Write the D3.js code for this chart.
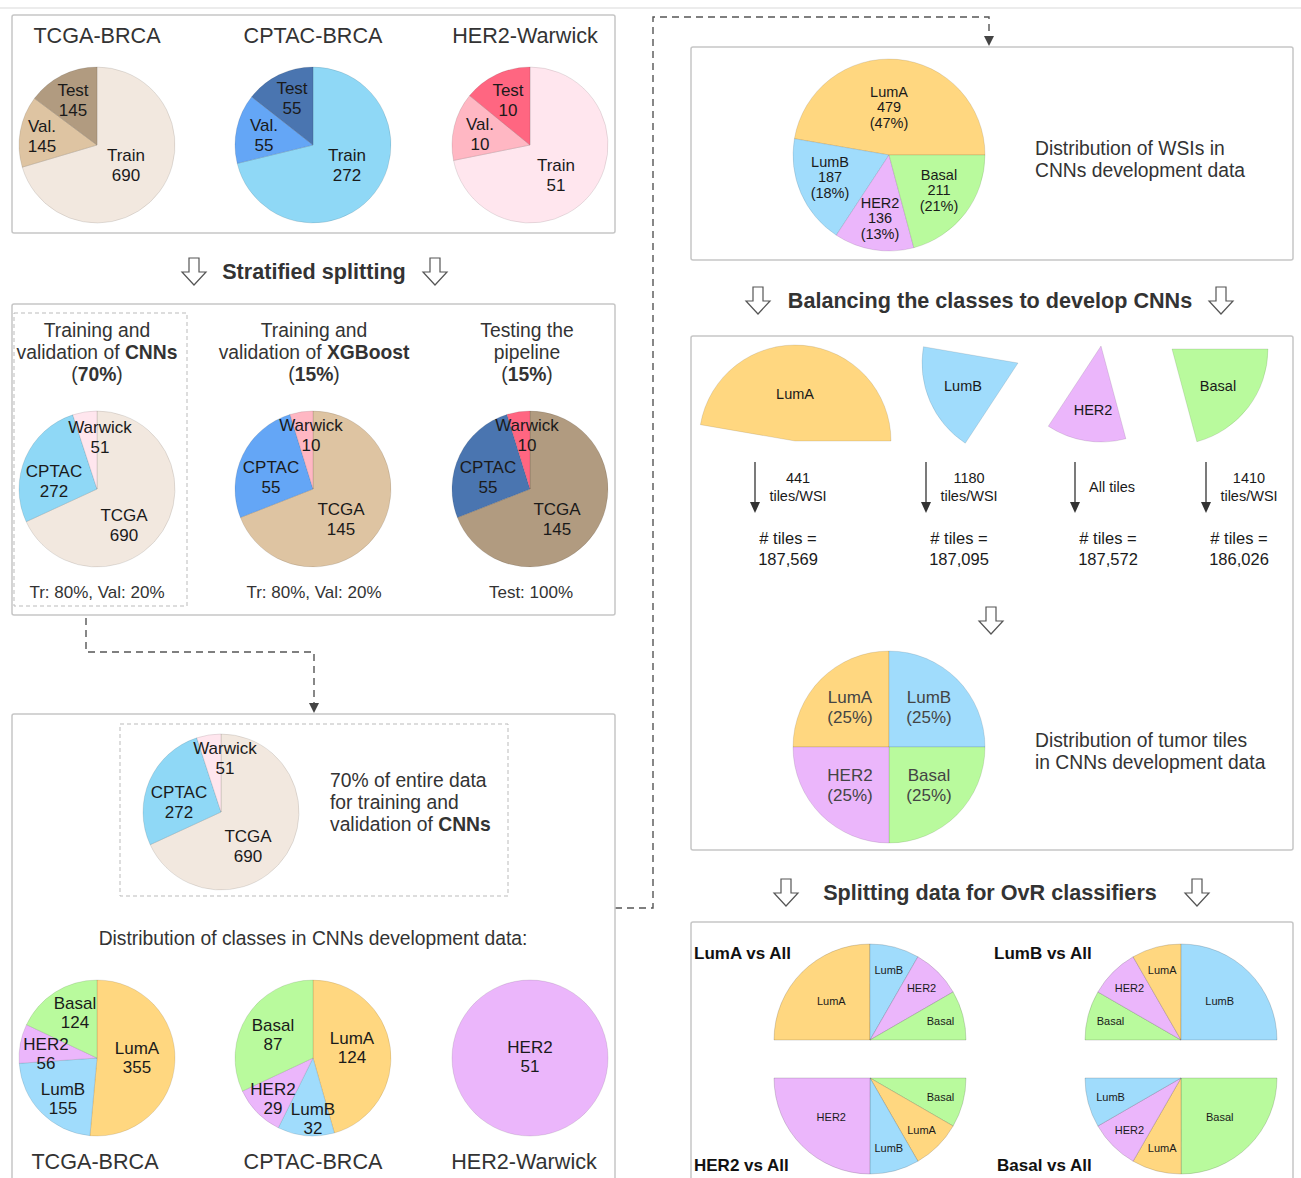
<!DOCTYPE html>
<html><head><meta charset="utf-8">
<script src="https://cdn.jsdelivr.net/npm/d3@7"></script>
<style>body{margin:0;background:#fff}svg{display:block;font-family:"Liberation Sans",Arial,Helvetica,sans-serif}</style>
</head><body><svg id="c" width="1301" height="1178"></svg>
<script>
// ---------------- DATA ----------------
const datasets = ["TCGA-BRCA", "CPTAC-BRCA", "HER2-Warwick"];
const splitLabels = ["Train", "Val.", "Test"];
const tcgaSplit = [690, 145, 145];
const cptacSplit = [272, 55, 55];
const warwickSplit = [51, 10, 10];

const cohortLabels = ["TCGA", "CPTAC", "Warwick"];
const cnnCohorts = [690, 272, 51];
const xgbCohorts = [145, 55, 10];
const testCohorts = [145, 55, 10];
const splitFooters = ["Tr: 80%, Val: 20%", "Tr: 80%, Val: 20%", "Test: 100%"];

const subtypes = ["LumA", "LumB", "HER2", "Basal"];
const tcgaClasses = [355, 155, 56, 124];
const cptacClasses = [124, 32, 29, 87];
const warwickClasses = [0, 0, 51, 0];

const wsiClasses = [479, 187, 136, 211];
const wsiPercents = ["47%", "18%", "13%", "21%"];
const tilesPerWsi = [["441", "tiles/WSI"], ["1180", "tiles/WSI"], ["All tiles"], ["1410", "tiles/WSI"]];
const tileCounts = ["187,569", "187,095", "187,572", "186,026"];
const balancedShares = [25, 25, 25, 25];

const ovrTitles = ["LumA vs All", "LumB vs All", "HER2 vs All", "Basal vs All"];
const ovrShares = [
  [50, 16.7, 16.7, 16.7],
  [16.7, 50, 16.7, 16.7],
  [16.7, 16.7, 50, 16.7],
  [16.7, 16.7, 16.7, 50]
];

// ---------------- STYLE ----------------
const tcgaCols = ["#F2E8DF", "#DEC4A2", "#B19B80"];
const cptacCols = ["#8FD8F6", "#64A6F6", "#4A75B0"];
const warCols = ["#FFE6EE", "#FFB7C3", "#FF6681"];
const subCols = {LumA: "#FFD780", LumB: "#A0DCFC", HER2: "#EBB6FB", Basal: "#B9FA9D"};
const ink = "#333";
const pieInk = "#1a1a1a";
const BODY = 19.3, TITLE = 21.6;

const svg = d3.select("#c");

// ---------------- HELPERS ----------------
function textLines(g, x, y, lines, size, color, opts = {}) {
  const lh = opts.lh || size * 1.17;
  const anchor = opts.anchor || "middle";
  const t = g.append("text").attr("x", x).attr("y", y)
    .attr("font-size", size).attr("fill", color).attr("text-anchor", anchor)
    .attr("font-weight", opts.weight || "normal");
  const n = lines.length;
  lines.forEach((ln, k) => {
    const ts = t.append("tspan").attr("x", x)
      .attr("y", y + (k - (n - 1) / 2) * lh)
      .attr("dominant-baseline", "central");
    if (!Array.isArray(ln)) { ts.text(ln); }
    else ln.forEach(p => ts.append("tspan").attr("font-weight", p[1] ? "bold" : "normal").text(p[0]));
  });
  return t;
}

function drawPie(g, o) {
  const order = o.order || o.values.map((d, i) => i);
  const items = order.map(i => ({i, label: o.labels[i], value: o.values[i]}));
  const pie = d3.pie().sort(null).value(d => d.value)
    .startAngle(o.start || 0).endAngle(o.end === undefined ? 2 * Math.PI : o.end);
  const arcs = pie(items);
  const arc = d3.arc().innerRadius(0).outerRadius(o.r);
  const pg = g.append("g").attr("transform", `translate(${o.cx},${o.cy})`);
  const shown = arcs.filter(a => a.data.value > 0);
  pg.selectAll("path").data(shown).join("path")
    .attr("d", arc)
    .attr("transform", a => o.shift ? `translate(${o.shift[a.data.i][0]},${o.shift[a.data.i][1]})` : null)
    .attr("fill", a => o.colors[a.data.i])
    .attr("stroke", o.stroke || "rgba(0,0,0,0.10)")
    .attr("stroke-width", 1)
    .attr("stroke-linejoin", "round");
  shown.forEach(a => {
    const i = a.data.i;
    let dx, dy;
    if (o.offsets) { [dx, dy] = o.offsets[i]; }
    else {
      const mid = (a.startAngle + a.endAngle) / 2;
      const span = Math.abs(a.endAngle - a.startAngle);
      const f = span > Math.PI / 3 ? o.fracBig : o.fracSmall;
      dx = Math.sin(mid) * o.r * f; dy = -Math.cos(mid) * o.r * f;
    }
    if (o.shift) { dx += o.shift[i][0]; dy += o.shift[i][1]; }
    textLines(pg, dx, dy, o.lines(a.data), o.fontSize, o.textColor || pieInk, {lh: o.lh});
  });
  return pg;
}

function hollowArrow(x, top) {
  svg.append("path")
    .attr("d", `M${x-5},${top} L${x+5},${top} L${x+5},${top+14} L${x+12},${top+14} L${x},${top+27} L${x-12},${top+14} L${x-5},${top+14} Z`)
    .attr("fill", "#fff").attr("stroke", "#555").attr("stroke-width", 1.2);
}
function solidArrow(x, y0, y1) {
  svg.append("line").attr("x1", x).attr("x2", x).attr("y1", y0).attr("y2", y1 - 9)
    .attr("stroke", "#333").attr("stroke-width", 1.3);
  svg.append("path").attr("d", `M${x-5},${y1-11} L${x+5},${y1-11} L${x},${y1} Z`).attr("fill", "#333");
}
function panel(x0, y0, x1, y1) {
  svg.append("rect").attr("x", x0).attr("y", y0).attr("width", x1 - x0).attr("height", y1 - y0)
    .attr("rx", 2).attr("fill", "#fff").attr("stroke", "#c6c6c6").attr("stroke-width", 1.5);
}
function dashed(points, arrow) {
  svg.append("path").attr("d", d3.line()(points)).attr("fill", "none")
    .attr("stroke", "#555").attr("stroke-width", 1.4).attr("stroke-dasharray", "7,5");
  if (arrow) {
    const [x, y] = points[points.length - 1];
    svg.append("path").attr("d", `M${x-5},${y-1} L${x+5},${y-1} L${x},${y+9} Z`).attr("fill", "#444");
  }
}

svg.append("line").attr("x1", 0).attr("x2", 1301).attr("y1", 8).attr("y2", 8).attr("stroke", "#ececec").attr("stroke-width", 2);

// ---------------- CONNECTORS ----------------
dashed([[86, 606], [86, 652], [314, 652], [314, 704]], true);
dashed([[615, 908], [653, 908], [653, 17], [989, 17], [989, 37]], true);

// ---------------- PANEL 1 ----------------
panel(12, 15, 615, 233);
const colX = [97, 313, 530];
datasets.forEach((d, k) => textLines(svg, [97, 313, 525][k], 35, [d], TITLE, ink));
const p1 = [[tcgaSplit, tcgaCols], [cptacSplit, cptacCols], [warwickSplit, warCols]];
const p1Offsets = [
  [[29, 20], [-55, -9], [-24, -45]],
  [[34, 20], [-49, -10], [-21, -47]],
  [[26, 30], [-50, -11], [-22, -45]]
];
p1.forEach(([vals, cols], k) => drawPie(svg, {
  cx: colX[k], cy: 145, r: 78, labels: splitLabels, values: vals, colors: cols,
  offsets: p1Offsets[k], fontSize: 17, lh: 20, lines: d => [d.label, String(d.value)]
}));
hollowArrow(194, 258); hollowArrow(435, 258);
textLines(svg, 314, 271, ["Stratified splitting"], TITLE, ink, {weight: "bold"});

// ---------------- PANEL 2 ----------------
panel(12, 304, 615, 615);
svg.append("rect").attr("x", 14).attr("y", 313).attr("width", 173).attr("height", 293)
  .attr("fill", "none").attr("stroke", "#bbb").attr("stroke-width", 1).attr("stroke-dasharray", "4,3");
const heads = [
  [[["Training and", false]], [["validation of ", false], ["CNNs", true]], [["(", false], ["70%", true], [")", false]]],
  [[["Training and", false]], [["validation of ", false], ["XGBoost", true]], [["(", false], ["15%", true], [")", false]]],
  [[["Testing the", false]], [["pipeline", false]], [["(", false], ["15%", true], [")", false]]]
];
heads.forEach((h, k) => textLines(svg, [97, 314, 527][k], 352, h, BODY, ink, {lh: 22}));
const p2 = [[cnnCohorts, [tcgaCols[0], cptacCols[0], warCols[0]]],
            [xgbCohorts, [tcgaCols[1], cptacCols[1], warCols[1]]],
            [testCohorts, [tcgaCols[2], cptacCols[2], warCols[2]]]];
const p2Offsets = [
  [[27, 36], [-43, -8], [3, -52]],
  [[28, 30], [-42, -12], [-2, -54]],
  [[27, 30], [-42, -12], [-3, -54]]
];
p2.forEach(([vals, cols], k) => drawPie(svg, {
  cx: colX[k], cy: 489, r: 78, labels: cohortLabels, values: vals, colors: cols,
  offsets: p2Offsets[k], fontSize: 17, lh: 20, lines: d => [d.label, String(d.value)]
}));
splitFooters.forEach((t, k) => textLines(svg, [97, 314, 531][k], 592, [t], 17, ink));

// ---------------- PANEL 3 ----------------
panel(12, 714, 615, 1200);
svg.append("rect").attr("x", 120).attr("y", 724).attr("width", 388).attr("height", 172)
  .attr("fill", "none").attr("stroke", "#bbb").attr("stroke-width", 1).attr("stroke-dasharray", "4,3");
drawPie(svg, {
  cx: 221, cy: 812, r: 78, labels: cohortLabels, values: cnnCohorts,
  colors: [tcgaCols[0], cptacCols[0], warCols[0]],
  offsets: [[27, 34], [-42, -10], [4, -54]], fontSize: 17, lh: 20, lines: d => [d.label, String(d.value)]
});
textLines(svg, 330, 802, ["70% of entire data", "for training and", [["validation of ", false], ["CNNs", true]]], BODY, ink, {anchor: "start", lh: 22});
textLines(svg, 313, 938, ["Distribution of classes in CNNs development data:"], BODY, ink);
const subColArr = subtypes.map(s => subCols[s]);
const p3 = [tcgaClasses, cptacClasses, warwickClasses];
const p3Offsets = [
  [[40, 0], [-34, 41], [-51, -4], [-22, -45]],
  [[39, -10], [0, 61], [-40, 41], [-40, -23]],
  [[0, 0], [0, 0], [0, -1], [0, 0]]
];
p3.forEach((vals, k) => drawPie(svg, {
  cx: colX[k], cy: 1058, r: 78, labels: subtypes, values: vals, colors: subColArr,
  offsets: p3Offsets[k], fontSize: 17, lh: 19, lines: d => [d.label, String(d.value)]
}));
datasets.forEach((d, k) => textLines(svg, [95, 313, 524][k], 1161, [d], TITLE, ink));

// ---------------- RIGHT PANEL A ----------------
panel(691, 47, 1293, 260);
const wsiOffsets = [[0, -48], [-59, 22], [-9, 63], [50, 35]];
drawPie(svg, {
  cx: 889, cy: 155, r: 96, labels: subtypes, values: wsiClasses, colors: subColArr,
  start: Math.PI / 2, end: Math.PI / 2 - 2 * Math.PI,
  offsets: wsiOffsets, fontSize: 14.5, lh: 15.5,
  lines: d => [d.label, String(d.value), "(" + wsiPercents[d.i] + ")"]
});
textLines(svg, 1035, 159, ["Distribution of WSIs in", "CNNs development data"], BODY, ink, {anchor: "start", lh: 22});
hollowArrow(758, 287); hollowArrow(1221, 287);
textLines(svg, 990, 300, ["Balancing the classes to develop CNNs"], TITLE, ink, {weight: "bold"});

// ---------------- RIGHT PANEL B ----------------
panel(691, 336, 1293, 850);
// sectors taken out of the WSI pie, each moved to its own column
const sectorShift = [[795 - 889, 441 - 155], [1018 - 889, 363 - 155], [1101 - 889, 346 - 155], [1172 - 889, 349 - 155]];
drawPie(svg, {
  cx: 889, cy: 155, r: 96, labels: subtypes, values: wsiClasses, colors: subColArr,
  start: Math.PI / 2, end: Math.PI / 2 - 2 * Math.PI, shift: sectorShift,
  offsets: [[0, -47], [-55, 23], [-8, 64], [46, 37]], fontSize: 14.5, lh: 16,
  lines: d => [d.label]
});
const arrowX = [755, 926, 1075, 1206];
arrowX.forEach((x, k) => {
  solidArrow(x, 462, 513);
  textLines(svg, x + (k === 2 ? 37 : 43), 487, tilesPerWsi[k], 14.5, pieInk, {lh: 18});
  textLines(svg, x + 33, 548, ["# tiles =", tileCounts[k]], 16.5, pieInk, {lh: 21});
});
hollowArrow(991, 607);
drawPie(svg, {
  cx: 889, cy: 747, r: 96, labels: subtypes, values: balancedShares, colors: subColArr,
  start: -Math.PI / 2, order: [0, 1, 3, 2],
  offsets: [[-39, -40], [40, -40], [-39, 38], [40, 38]], fontSize: 17, lh: 20, textColor: "#444",
  lines: d => [d.label, "(" + d.value + "%)"]
});
textLines(svg, 1035, 751, ["Distribution of tumor tiles", "in CNNs development data"], BODY, ink, {anchor: "start", lh: 22});
hollowArrow(786, 879); hollowArrow(1197, 879);
textLines(svg, 990, 892, ["Splitting data for OvR classifiers"], TITLE, ink, {weight: "bold"});

// ---------------- RIGHT PANEL C ----------------
panel(691, 922, 1293, 1200);
const ovrLayout = [
  {cx: 870, cy: 1040, start: -Math.PI / 2, end: Math.PI / 2, order: [0, 1, 2, 3], tx: 694, ty: 953},
  {cx: 1181, cy: 1040, start: -Math.PI / 2, end: Math.PI / 2, order: [3, 2, 0, 1], tx: 994, ty: 953},
  {cx: 870, cy: 1078, start: Math.PI / 2, end: 3 * Math.PI / 2, order: [3, 0, 1, 2], tx: 694, ty: 1165},
  {cx: 1181, cy: 1078, start: Math.PI / 2, end: 3 * Math.PI / 2, order: [3, 0, 2, 1], tx: 997, ty: 1165}
];
ovrLayout.forEach((L, k) => {
  drawPie(svg, {
    cx: L.cx, cy: L.cy, r: 96, labels: subtypes, values: ovrShares[k], colors: subColArr,
    start: L.start, end: L.end, order: L.order, stroke: "rgba(0,0,0,0.15)",
    fracBig: 0.57, fracSmall: 0.76, fontSize: 11, lh: 12, lines: d => [d.label]
  });
  textLines(svg, L.tx, L.ty, [ovrTitles[k]], 17, "#111", {anchor: "start", weight: "bold"});
});
</script></body></html>
